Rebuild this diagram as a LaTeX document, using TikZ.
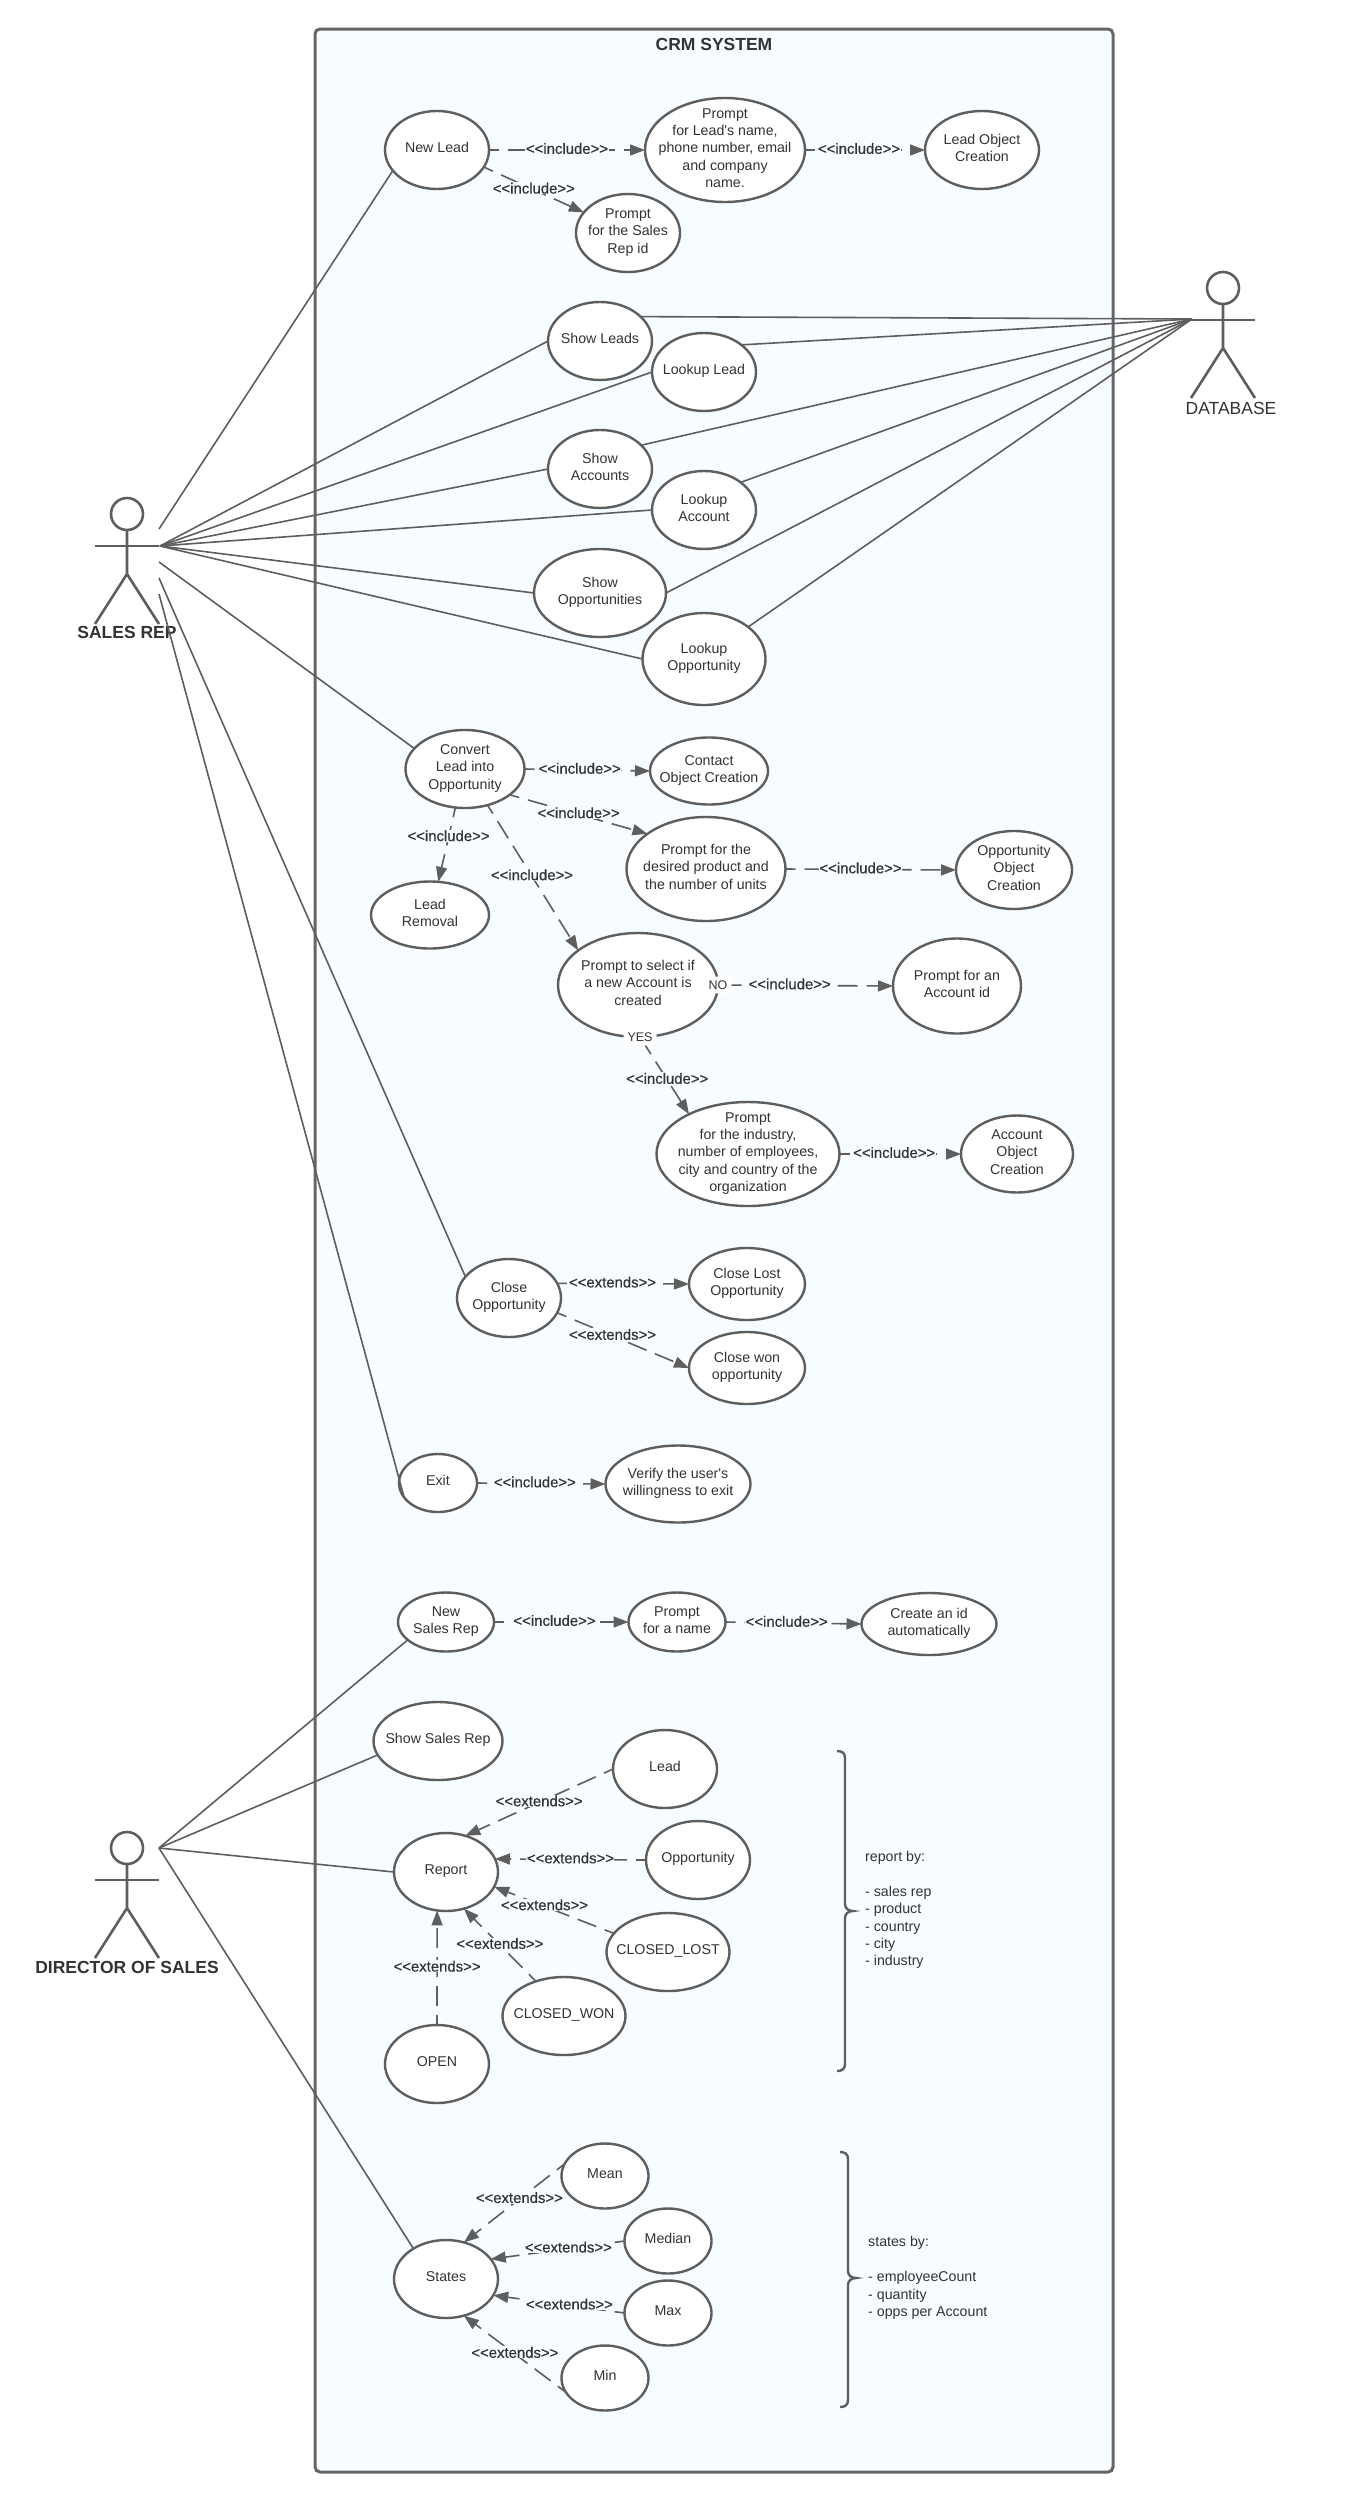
\documentclass[tikz,border=0pt]{standalone}
\usepackage{fontspec}
\setmainfont[Ligatures=TeXOff]{Liberation Sans}
\newfontface\depfont[Ligatures=TeXOff,FakeBold=0.45]{Liberation Sans}
\usepackage{xcolor}
\usetikzlibrary{shapes.geometric,arrows.meta}

\definecolor{boxfill}{HTML}{F6FCFF}
\definecolor{linegray}{HTML}{5E5E5E}
\definecolor{inkgray}{HTML}{333333}

\newcommand{\uctext}[1]{\makebox[0pt]{\smash{\raisebox{-3pt}{\begin{tabular}[c]{@{}c@{}}#1\end{tabular}}}}}

\tikzset{
  usecase/.style 2 args={ellipse,draw=linegray,line width=2.4pt,fill=white,text=inkgray,
    minimum width=#1pt,minimum height=#2pt,inner sep=0pt,outer sep=0pt,
    font=\fontsize{14.2}{17.4}\selectfont},
  assoc/.style={draw=linegray,line width=1.6pt},
  depline/.style={draw=linegray,line width=1.6pt,dash pattern=on 20pt off 9pt,dash phase=10pt,
    -{Triangle[length=15pt,width=11pt]}},
  deplabel/.style={fill=boxfill,inner sep=0.5pt,text=inkgray,yshift=1.5pt,
    font=\fontsize{14.9}{17.4}\depfont},
  choicebox/.style={fill=white,rounded corners=3pt,inner sep=4pt,text=inkgray,
    font=\fontsize{12.5}{15}\selectfont},
  actorline/.style={draw=linegray,line width=2.6pt},
  actorhead/.style={circle,draw=linegray,line width=2.6pt,minimum size=32pt,inner sep=0pt,outer sep=0pt},
  actorname/.style={text=inkgray,font=\fontsize{17.5}{21}\selectfont},
  bracket/.style={draw=linegray,line width=2.4pt},
  notetext/.style={align=left,anchor=west,text=inkgray,inner sep=0pt,
    font=\fontsize{14.2}{17.4}\selectfont}
}

\begin{document}
\begin{tikzpicture}[x=1pt,y=-1pt]
  \useasboundingbox (0,0) rectangle (1362,2500);

  \draw[draw=linegray!95,line width=3pt,fill=boxfill,rounded corners=5pt] (315,29) rectangle (1113,2472);
  \node[actorname,font=\fontsize{17.5}{21}\selectfont\bfseries] (crmtitle) at (714,44) {CRM SYSTEM};

  % actors
  \foreach \name/\px/\py in {salesrep/127/514,database/1223/288,director/127/1848}{
    \node[actorhead] (\name) at (\px,\py) {};
    \draw[actorline] (\name.south) -- ++(0,44) -- ++(-32,50);
    \draw[actorline] (\name.south) ++(0,44) -- ++(32,50);
    \draw[actorline] (\px-32,\py+32) -- (\px+32,\py+32);
  }
  \node[actorname,font=\fontsize{17.5}{21}\selectfont\bfseries] (salesname) at (127,632) {SALES REP};
  \node[actorname] (dbname) at (1231,408) {DATABASE};
  \node[actorname,font=\fontsize{17.5}{21}\selectfont\bfseries] (directorname) at (127,1967) {DIRECTOR OF SALES};

  % sales rep use cases
  \node[usecase={104}{78}] (newlead) at (437,150) {\uctext{New Lead}};
  \node[usecase={160}{104}] (promptlead) at (725,150) {\uctext{Prompt\\for Lead's name,\\phone number, email\\and company\\name.}};
  \node[usecase={114}{78}] (leadobject) at (982,150) {\uctext{Lead Object\\Creation}};
  \node[usecase={104}{78}] (promptrep) at (628,233) {\uctext{Prompt\\for the Sales\\Rep id}};
  \node[usecase={104}{78}] (showleads) at (600,341) {\uctext{Show Leads}};
  \node[usecase={104}{78}] (lookuplead) at (704,372) {\uctext{Lookup Lead}};
  \node[usecase={104}{78}] (showaccounts) at (600,469) {\uctext{Show\\Accounts}};
  \node[usecase={104}{78}] (lookupaccount) at (704,510) {\uctext{Lookup\\Account}};
  \node[usecase={132}{88}] (showopps) at (600,593) {\uctext{Show\\Opportunities}};
  \node[usecase={123}{92}] (lookupopp) at (704,659) {\uctext{Lookup\\Opportunity}};
  \node[usecase={119}{78}] (convert) at (465,769) {\uctext{Convert\\Lead into\\Opportunity}};
  \node[usecase={118}{67}] (contact) at (709,771) {\uctext{Contact\\Object Creation}};
  \node[usecase={159}{104}] (promptproduct) at (706,869) {\uctext{Prompt for the\\desired product and\\the number of units}};
  \node[usecase={116}{78}] (oppobject) at (1014,870) {\uctext{Opportunity\\Object\\Creation}};
  \node[usecase={118}{67}] (leadremoval) at (430,915) {\uctext{Lead\\Removal}};
  \node[usecase={160}{104}] (promptselect) at (638,985) {\uctext{Prompt to select if\\a new Account is\\created}};
  \node[usecase={128}{95}] (promptaccount) at (957,986) {\uctext{Prompt for an\\Account id}};
  \node[usecase={183}{104}] (promptorg) at (748,1154) {\uctext{Prompt\\for the industry,\\number of employees,\\city and country of the\\organization}};
  \node[usecase={112}{77}] (accountobject) at (1017,1154) {\uctext{Account\\Object\\Creation}};
  \node[usecase={104}{78}] (closeopp) at (509,1298) {\uctext{Close\\Opportunity}};
  \node[usecase={116}{72}] (closelost) at (747,1284) {\uctext{Close Lost\\Opportunity}};
  \node[usecase={116}{72}] (closewon) at (747,1368) {\uctext{Close won\\opportunity}};
  \node[usecase={78}{58}] (exit) at (438,1483) {\uctext{Exit}};
  \node[usecase={145}{77}] (verify) at (678,1484) {\uctext{Verify the user's\\willingness to exit}};

  % director use cases
  \node[usecase={96}{59}] (newrep) at (446,1622) {\uctext{New\\Sales Rep}};
  \node[usecase={97}{59}] (promptname) at (677,1622) {\uctext{Prompt\\for a name}};
  \node[usecase={135}{62}] (createid) at (929,1624) {\uctext{Create an id\\automatically}};
  \node[usecase={129}{78}] (showreps) at (438,1741) {\uctext{Show Sales Rep}};
  \node[usecase={104}{78}] (lead) at (665,1769) {\uctext{Lead}};
  \node[usecase={104}{78}] (opportunity) at (698,1860) {\uctext{Opportunity}};
  \node[usecase={104}{78}] (report) at (446,1872) {\uctext{Report}};
  \node[usecase={123}{78}] (closedlost) at (668,1952) {\uctext{CLOSED\_LOST}};
  \node[usecase={123}{78}] (closedwon) at (564,2016) {\uctext{CLOSED\_WON}};
  \node[usecase={104}{78}] (open) at (437,2064) {\uctext{OPEN}};
  \node[usecase={87}{65}] (mean) at (605,2176) {\uctext{Mean}};
  \node[usecase={87}{65}] (median) at (668,2241) {\uctext{Median}};
  \node[usecase={87}{65}] (max) at (668,2313) {\uctext{Max}};
  \node[usecase={87}{65}] (min) at (605,2378) {\uctext{Min}};
  \node[usecase={104}{78}] (states) at (446,2279) {\uctext{States}};

  % white tags on the decision
  \node[choicebox] (no) at (718,985) {NO};
  \node[choicebox] (yes) at (640,1037) {YES};

  % actor links
  \coordinate (salesnewlead) at (159,529);
  \coordinate (salesfan) at (160,546);
  \coordinate (salesconvert) at (159,562);
  \coordinate (salesclose) at (159,578);
  \coordinate (salesexit) at (159,594);
  \coordinate (dbfan) at (1192,319);
  \coordinate (directorfan) at (159,1848);

  \draw[assoc] (salesnewlead) -- (newlead.205);
  \draw[assoc] (salesconvert) -- (convert.158);
  \draw[assoc] (salesclose) -- (closeopp.154);
  \draw[assoc] (salesexit) -- (exit.203);
  \foreach \target in {showleads.west,lookuplead.west,showaccounts.west,lookupaccount.west,showopps.west,lookupopp.west}
    \draw[assoc] (salesfan) -- (\target);
  \foreach \target in {showleads.31,lookuplead.36,showaccounts.30,lookupaccount.37,showopps.east,lookupopp.36}
    \draw[assoc] (dbfan) -- (\target);
  \foreach \target in {newrep.205,showreps.193,report.west,states.137}
    \draw[assoc] (directorfan) -- (\target);

  % include and extends
  \draw[depline] (newlead.east) -- node[deplabel] {<<include>>} (promptlead.west);
  \draw[depline] (promptlead.east) -- node[deplabel,pos=.45] {<<include>>} (leadobject.west);
  \draw[depline] (newlead.340) -- node[deplabel] {<<include>>} (promptrep.155);
  \draw[depline] (convert.east) -- node[deplabel,pos=.44] {<<include>>} (contact.west);
  \draw[depline] (convert.330) -- node[deplabel] {<<include>>} (promptproduct.149);
  \draw[depline] (convert.256) -- node[deplabel,pos=.4] {<<include>>} (leadremoval.76);
  \draw[depline] (convert.302) -- node[deplabel,pos=.49] {<<include>>} (promptselect.150);
  \draw[depline] (promptproduct.east) -- node[deplabel,pos=.44] {<<include>>} (oppobject.west);
  \draw[depline] (no) -- node[deplabel,pos=.36] {<<include>>} (promptaccount.west);
  \draw[depline] (yes) -- node[deplabel] {<<include>>} (promptorg.146);
  \draw[depline] (promptorg.east) -- node[deplabel,pos=.45] {<<include>>} (accountobject.west);
  \draw[depline] (closeopp.17) -- node[deplabel,pos=.42] {<<extends>>} (closelost.west);
  \draw[depline] (closeopp.343) -- node[deplabel,pos=.42] {<<extends>>} (closewon.west);
  \draw[depline] (exit.east) -- node[deplabel,pos=.45] {<<include>>} (verify.west);
  \draw[depline] (newrep.east) -- node[deplabel,pos=.45] {<<include>>} (promptname.west);
  \draw[depline] (promptname.east) -- node[deplabel,pos=.45] {<<include>>} (createid.west);
  \draw[depline] (lead.west) -- node[deplabel] {<<extends>>} (report.62);
  \draw[depline] (opportunity.west) -- node[deplabel] {<<extends>>} (report.15);
  \draw[depline] (closedlost.161) -- node[deplabel,pos=.58] {<<extends>>} (report.343);
  \draw[depline] (closedwon.129) -- node[deplabel] {<<extends>>} (report.296);
  \draw[depline] (open.north) -- node[deplabel] {<<extends>>} (report.257);
  \draw[depline] (mean.163) -- node[deplabel,pos=.45] {<<extends>>} (states.64);
  \draw[depline] (median.west) -- node[deplabel,pos=.42] {<<extends>>} (states.24);
  \draw[depline] (max.west) -- node[deplabel,pos=.42] {<<extends>>} (states.341);
  \draw[depline] (min.200) -- node[deplabel,pos=.5] {<<extends>>} (states.296);

  % braces and notes
  \draw[bracket] (837,1751) .. controls (842,1751) and (845,1753) .. (845,1758) -- (845,1904)
    .. controls (845,1908) and (848,1911) .. (853,1911) .. controls (848,1911) and (845,1914) .. (845,1918)
    -- (845,2064) .. controls (845,2069) and (842,2071) .. (837,2071);
  \draw[bracket] (840,2152) .. controls (845,2152) and (848,2154) .. (848,2159) -- (848,2271)
    .. controls (848,2275) and (851,2278) .. (856,2278) .. controls (851,2278) and (848,2281) .. (848,2285)
    -- (848,2400) .. controls (848,2405) and (845,2407) .. (840,2407);

  \node[notetext] (reportnote) at (865,1910) {report by:\\[17.4pt]- sales rep\\- product\\- country\\- city\\- industry};
  \node[notetext] (statesnote) at (868,2278) {states by:\\[17.4pt]- employeeCount\\- quantity\\- opps per Account};
\end{tikzpicture}
\end{document}
